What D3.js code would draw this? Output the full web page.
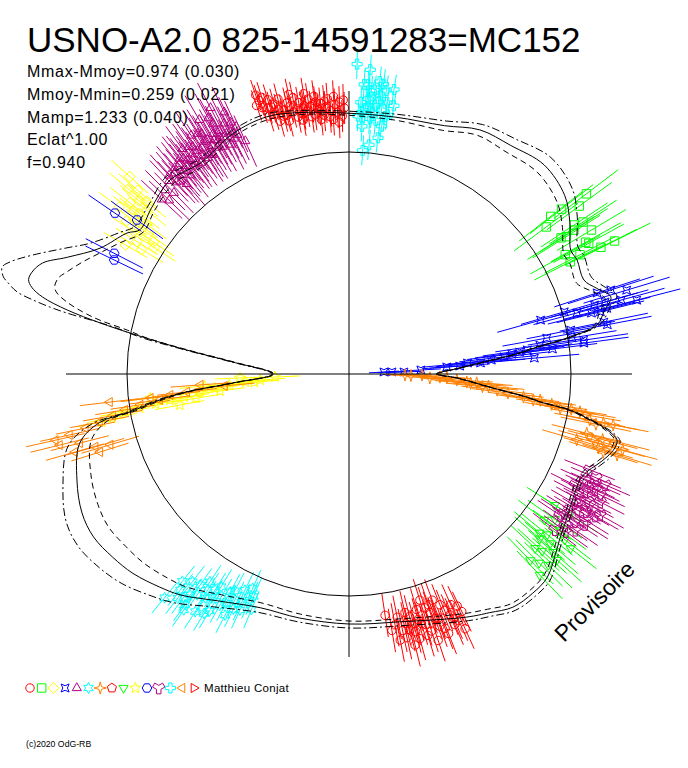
<!DOCTYPE html>
<html>
<head>
<meta charset="utf-8">
<script src="https://cdn.jsdelivr.net/npm/d3@7/dist/d3.min.js"></script>
<style>
body { margin: 0; background: #fff; }
svg { display: block; }
text { font-family: "Liberation Sans", Arial, sans-serif; fill: #000; }
</style>
</head>
<body>
<svg id="chart" width="688" height="768"></svg>
<script>
var title = "USNO-A2.0 825-14591283=MC152";
var statLines = ["Mmax-Mmoy=0.974 (0.030)", "Mmoy-Mmin=0.259 (0.021)", "Mamp=1.233 (0.040)", "Eclat^1.00", "f=0.940"];
var author = "Matthieu Conjat";
var copyright = "(c)2020 OdG-RB";
var stamp = "Provisoire";

// reference circle and axis extent, in radial units
var refRadius = 2.22, axisRadius = 2.83;

// fitted light curve and its two bounds : [phase angle (deg), radius]
var fitMid = [[0,0.88],[3.1,1.11],[4.8,1.31],[7,1.72],[8,1.87],[9.5,2.25],[11.2,2.53],[13.9,2.63],[16.4,2.73],[19.1,2.62],[21.8,2.53],[26.6,2.55],[29.2,2.54],[34.5,2.68],[39.6,2.80],[47,2.86],[54.7,2.80],[61.8,2.77],[69,2.66],[79.9,2.61],[91,2.61],[100.6,2.66],[107.7,2.70],[115.7,2.67],[125.2,2.58],[132.7,2.64],[140,2.58],[145.4,2.54],[147.6,2.63],[153.2,2.79],[157.5,3.05],[160.1,3.26],[162.2,3.33],[163.6,3.34],[164.7,3.29],[165.9,3.16],[167.2,2.89],[168.4,2.54],[169.4,2.23],[171.6,1.64],[174.1,1.17],[180,0.76],[184.4,1.16],[186.3,1.63],[187.8,1.91],[189.8,2.22],[191,2.54],[194.4,2.78],[201.3,2.92],[207.5,3.01],[212.5,3.03],[217.8,2.99],[222.7,2.94],[228.4,2.85],[232.6,2.78],[240,2.62],[249.2,2.50],[258.6,2.49],[270,2.50],[281.6,2.53],[295.8,2.70],[300.5,2.77],[305.1,2.85],[310,2.86],[314.3,2.84],[319.8,2.72],[322.3,2.67],[326.7,2.61],[331.2,2.56],[335.4,2.54],[337.6,2.57],[339.9,2.64],[342.2,2.71],[344.5,2.76],[346.2,2.76],[347.5,2.67],[348.5,2.56],[349.5,2.42],[350.7,2.24],[351.7,1.93],[352.6,1.79],[354.4,1.45],[357.9,1.08]];
var fitOuter = [[0,0.89],[3.1,1.12],[4.8,1.33],[7,1.74],[8,1.89],[9.5,2.27],[11.2,2.56],[13.9,2.68],[16.4,2.79],[19.1,2.69],[21.8,2.61],[26.6,2.63],[29.2,2.62],[34.5,2.77],[39.6,2.90],[47,2.96],[54.7,2.88],[61.8,2.83],[69,2.71],[79.9,2.64],[91,2.63],[100.6,2.68],[107.7,2.73],[115.7,2.70],[125.2,2.62],[132.7,2.69],[140,2.62],[145.4,2.60],[148.2,2.69],[153.2,2.90],[155.9,3.09],[159.4,3.38],[161.7,3.57],[162.9,3.63],[164.3,3.59],[164.9,3.54],[166.1,3.42],[166.8,3.25],[167.4,3.06],[167.8,2.89],[168.3,2.57],[168.8,2.37],[170,2.12],[171.6,1.67],[174.1,1.19],[180,0.77],[184.4,1.18],[186.3,1.66],[187.8,1.95],[189.8,2.27],[191,2.62],[194.4,2.90],[201.3,3.07],[207.5,3.19],[212.5,3.21],[217.8,3.16],[222.7,3.09],[228.4,2.97],[232.6,2.88],[240,2.69],[249.2,2.55],[258.6,2.53],[270,2.54],[281.6,2.57],[295.8,2.74],[300.5,2.81],[305.1,2.89],[310,2.90],[314.3,2.88],[319.8,2.75],[322.3,2.70],[326.7,2.64],[331.2,2.59],[335.4,2.57],[337.6,2.60],[339.9,2.67],[342.2,2.74],[344.5,2.79],[346.2,2.79],[347.5,2.70],[348.5,2.58],[349.5,2.44],[350.7,2.26],[351.7,1.95],[352.6,1.80],[354.4,1.46],[357.9,1.09]];
var fitInner = [[0,0.87],[3.1,1.10],[4.8,1.30],[7,1.70],[8,1.85],[9.5,2.23],[11.2,2.50],[13.9,2.58],[16.4,2.67],[19.1,2.55],[21.8,2.45],[26.6,2.47],[29.2,2.46],[34.5,2.59],[39.6,2.70],[47,2.76],[54.7,2.72],[61.8,2.71],[69,2.61],[79.9,2.58],[91,2.59],[100.6,2.64],[107.7,2.67],[115.7,2.64],[125.2,2.54],[132.7,2.59],[140,2.54],[145.4,2.50],[150.2,2.64],[154.1,2.77],[157.2,2.89],[160.1,3.00],[161.7,3.06],[163.5,3.07],[164.5,3.03],[165.7,2.91],[166.9,2.73],[167.8,2.55],[168.8,2.26],[169.9,2.05],[171.6,1.61],[174.1,1.15],[180,0.75],[184.4,1.14],[186.3,1.60],[187.8,1.87],[189.8,2.17],[191,2.46],[194.4,2.66],[201.3,2.77],[207.5,2.83],[212.5,2.85],[217.8,2.82],[222.7,2.79],[228.4,2.73],[232.6,2.68],[240,2.55],[249.2,2.45],[258.6,2.45],[270,2.47],[281.6,2.50],[295.8,2.66],[300.5,2.73],[305.1,2.81],[310,2.82],[314.3,2.80],[319.8,2.69],[322.3,2.64],[326.7,2.58],[331.2,2.53],[335.4,2.51],[337.6,2.54],[339.9,2.61],[342.2,2.68],[344.5,2.73],[346.2,2.73],[347.5,2.64],[348.5,2.54],[349.5,2.40],[350.7,2.22],[351.7,1.92],[352.6,1.78],[354.4,1.44],[357.9,1.07]];

// legend : one symbol and colour per observing session
var legendSymbols = ["circle","square","diamond","bowtie","triangle","star6","star4","pentagon","triangleDown","star5","hexagon","wye","cross","triangleLeft","triangleRight"];
var legendColors = ["#ff0000","#00ff00","#ffff00","#0000ff","#b4007f","#00ffff","#ff8000","#ff0000","#00ff00","#ffff00","#0000ff","#b4007f","#00ffff","#ff8000","#ff0000"];

// observations : [phase angle (deg), radius, optional error]
var obsRedTop = [[91,2.66],[91.5,2.58],[92,2.72],[92.5,2.62],[93,2.70],[93.5,2.55],[94,2.64],[94.5,2.76],[95,2.68],[95.5,2.60],[96,2.72],[96.5,2.66],[97,2.74],[97.5,2.62],[98,2.70],[98.5,2.78],[99,2.66],[99.5,2.72],[100,2.64],[100.5,2.76],[101,2.70],[101.5,2.82],[102,2.68],[102.5,2.74],[103,2.78],[103.5,2.66],[104,2.72],[104.5,2.84],[105,2.74],[105.5,2.80],[106,2.70],[106.5,2.86],[107,2.78],[107.5,2.90],[108,2.80],[108.5,2.94],[109,2.84],
  [91.2,2.74],[92.2,2.52],[93.2,2.78],[94.2,2.58],[95.2,2.74],[96.2,2.56],[97.2,2.80],[98.2,2.60],[99.2,2.84],[100.2,2.58],[101.2,2.62],[102.2,2.86],[103.2,2.60],[104.2,2.66],[105.2,2.62],[106.2,2.78],[107.2,2.70],[108.2,2.88],[96.8,2.68],[99.8,2.70]];
var obsCyanTop = [[81.5,2.62],[82,2.74],[82.5,2.86],[83,2.66],[83.5,2.80],[84,2.94],[84,2.55],[84.5,2.70],[85,2.62],[85.5,2.84],[86,2.76],[86,3.05],[86.5,2.66],[87,2.90],[87,2.48],[87.5,2.72],[88,2.58],[88.5,3.10],[83,2.38],[85,2.30],[86.5,2.24],[82.5,2.50],[80.5,2.72],[81,2.88],
  [82,2.60],[83.8,2.74],[84.8,2.85],[85.3,2.56],[86.2,2.90],[87.2,2.62],[83.2,2.92],[85.8,2.68]];
var obsMagentaTop = [[114,2.55],[114.5,2.72],[115,2.64],[115.5,2.90],[116,2.62],[116.5,2.80],[117,2.70],[117.5,3.00],[118,2.68],[118.5,2.85],[119,2.60],[119.5,2.76],[120,2.70],[120.5,2.95],[121,2.66],[121.5,2.82],[122,2.74],[122.5,2.62],[123,2.70],[123.5,2.86],[124,2.64],[124.5,2.76],[125,2.58],[125.5,2.70],[126,2.66],[126.5,2.80],[127,2.60],[127.5,2.72],[128,2.64],[128.5,2.54],[129,2.70],[130,2.60],[130.5,2.50],[131,2.66],[132,2.58],[133,2.64],[134,2.52],[135,2.60],[136,2.50],[137,2.56],
  [115.2,2.78],[116.2,2.70],[117.2,2.58],[118.2,2.76],[119.2,2.68],[120.2,2.62],[121.2,2.74],[122.2,2.84],[123.2,2.58],[124.2,2.70],[125.2,2.78],[126.2,2.60],[127.2,2.68],[128.2,2.74],[129.2,2.62],[130.2,2.70],[131.2,2.56],[132.2,2.68],[118.8,2.92],[121.8,2.58]];
var obsYellowTop = [[138,2.95],[139,2.80],[139.5,2.66],[140,2.88],[140.5,2.72],[141,2.60],[142,2.78],[142.5,2.64],[143,2.70],[143.5,2.52],[144,2.84],[144.5,2.60],[145,2.45],[145.5,2.70],[146,2.36],[146.5,2.58],[147,2.32],[148,2.50],[149,2.42],[150,2.58]];
var obsBlueLeft = [[145.5,2.84],[144,2.62],[152.8,2.64],[154.1,2.61]];
var obsYellowLeft = [[182.3,0.74],[182.1,1.09],[183.9,0.89],[184.4,1.04],[184.8,1.45],[185.3,1.20],[186.0,1.35],[186.9,1.50],[186.9,2.00],[188.0,1.66],[188.3,1.81],[188.8,1.96],[189.2,2.12],[189.6,2.27],[190.4,1.72],[190.5,2.41],[191.0,2.52],[187.5,1.30],[189.0,1.55],[185.0,0.95]];
var obsOrangeLeft = [[186.3,1.63],[186.7,1.80],[186.9,2.00],[187.8,1.91],[188.4,2.11],[189.1,2.27],[186.7,2.41],[190.9,2.54],[191.6,2.69],[192.3,2.86],[192.7,3.01],[193.8,2.98],[194.4,2.78],[196.0,2.64],[196.5,2.49],[195.9,2.85],[197.4,2.61],[184.2,1.49],[185.5,1.25],[190.0,2.40]];
var obsCyanBottom = [[232.0,2.74],[234.3,2.72],[234.8,2.58],[237.3,2.66],[238.2,2.54],[240.8,2.65],[241.4,2.48],[243.2,2.53],[244.3,2.40],[246.3,2.47],[234.6,2.83],[237.1,2.83],[236.2,2.50],[245.2,2.60],[242.8,2.71],[232.6,2.82],[245.8,2.35],[230.5,2.90],[239.5,2.75],[247.5,2.55],
  [231.2,2.66],[233.0,2.60],[233.5,2.78],[235.5,2.68],[236.8,2.58],[238.5,2.62],[239.0,2.48],[240.2,2.56],[241.8,2.60],[242.2,2.45],[243.8,2.62],[244.8,2.52],[246.8,2.42],[235.0,2.88],[238.8,2.80]];
var obsRedBottom = [[278.5,2.44],[280.4,2.55],[283.2,2.45],[283.4,2.63],[285.7,2.55],[288.0,2.46],[286.8,2.73],[289.4,2.59],[291.5,2.48],[290.7,2.72],[292.7,2.61],[292.9,2.72],[295.4,2.63],[280.9,2.71],[283.7,2.79],[290.2,2.41],[287.4,2.37],[288.5,2.81],[284.5,2.66],[287.0,2.62],[293.8,2.52],[281.8,2.62],[289.8,2.68],[294.5,2.80],
  [279.5,2.60],[281.2,2.48],[282.4,2.70],[284.0,2.50],[285.0,2.74],[286.2,2.60],[287.8,2.70],[288.8,2.52],[290.0,2.60],[291.0,2.78],[292.0,2.55],[293.2,2.66],[294.0,2.70],[295.0,2.56],[286.0,2.45],[289.0,2.44],[282.8,2.56],[284.8,2.58]];
var obsGreenTop = [[36.7,2.46],[38.0,2.56],[37.8,2.69],[37.2,2.98],[36.1,2.85],[33.0,2.79],[33.5,2.70],[32.3,2.57],[32.7,2.52],[29.1,2.71],[28.6,2.73],[26.7,2.82],[26.6,2.97],[32.6,2.67],[27.3,2.60],[26.9,2.48],[28.9,2.47],[30.7,2.82]];
var obsBlueRight = [[3.3,0.35,0.15],[2.7,0.43,0.15],[2.1,0.55,0.18],[3.2,0.72,0.2],[4.1,0.98,0.25],[5.3,1.19],[4.8,1.32],[5.6,1.43],[6.3,1.56],[7.7,1.80],[4.9,1.86],[10.3,2.01],[7.0,2.05],[11.2,2.26],[7.5,2.37],[16.1,2.24],[15.7,1.99],[15.0,2.36],[14.1,2.50],[11.5,2.60],[10.8,2.63],[18.1,2.61],[17.8,2.75],[16.8,2.90],[8.2,2.37],[14.3,2.66],[15.2,2.82],[14.4,2.97],[15.7,2.66],[15.7,2.55],[13.9,2.59],[8.6,1.93],[7.3,1.72],[4.1,1.11,0.3],[7.0,1.64],[9.2,2.26]];
var obsOrangeRight = [[359.0,0.56,0.2],[359.2,0.73,0.22],[358.1,0.91,0.25],[356.8,1.08],[356.1,1.18],[356.0,1.28],[353.8,1.49],[352.5,1.76],[352.0,1.86],[352.2,1.93],[350.8,2.14],[349.1,2.59],[349.1,2.69],[343.9,2.37],[344.9,2.53],[344.4,2.71],[344.5,2.84],[343.2,2.80],[342.9,2.66],[350.7,2.34],[349.2,2.45],[357.2,0.81,0.22],[355.0,1.40],[351.5,2.05],
  [358.6,0.62,0.2],[357.8,0.98,0.25],[355.6,1.22],[354.6,1.34],[353.2,1.60],[351.0,2.25],[350.2,2.40],[348.5,2.52],[346.0,2.45],[345.5,2.62],[343.5,2.60],[345.8,2.74]];
var obsMagentaBottom = [[333.8,2.52],[335.8,2.59],[334.8,2.72],[331.4,2.63],[331.5,2.74],[328.4,2.59],[330.7,2.88],[328.3,2.78],[325.0,2.64],[322.9,2.58],[325.4,2.75],[334.3,2.79],[336.6,2.79],[326.2,2.54],[338.3,2.59],[332.5,2.58],
  [324.0,2.68],[326.8,2.70],[327.5,2.80],[329.2,2.66],[329.8,2.74],[330.2,2.60],[332.0,2.70],[333.0,2.82],[333.5,2.64],[335.0,2.66],[336.0,2.70],[337.2,2.68],[330.0,2.84],[327.0,2.56]];
var obsGreenBottom = [[320.2,2.48],[318.2,2.79],[319.9,2.63],[323.3,2.44],[323.5,2.62],[316.9,2.55],[316.2,2.76],[313.5,2.77],[314.2,2.60],[322.5,2.72],[327.5,2.44],[327.5,2.62],[318.9,2.71],
  [315.2,2.68],[317.5,2.62],[321.0,2.55],[324.8,2.52],[319.2,2.52],[321.8,2.82]];

// session index (legend order) and typical error of each set
var sessions = [
  { points: obsRedTop, legend: 0, err: 0.16 },
  { points: obsRedBottom, legend: 0, err: 0.22 },
  { points: obsGreenTop, legend: 1, err: 0.4 },
  { points: obsYellowTop, legend: 2, err: 0.25 },
  { points: obsBlueRight, legend: 3, err: 0.45 },
  { points: obsMagentaTop, legend: 4, err: 0.28 },
  { points: obsCyanBottom, legend: 5, err: 0.2 },
  { points: obsOrangeRight, legend: 6, err: 0.36 },
  { points: obsGreenBottom, legend: 8, err: 0.33 },
  { points: obsYellowLeft, legend: 9, err: 0.25 },
  { points: obsBlueLeft, legend: 10, err: 0.32 },
  { points: obsMagentaBottom, legend: 11, err: 0.27 },
  { points: obsCyanTop, legend: 12, err: 0.15 },
  { points: obsOrangeLeft, legend: 13, err: 0.3 }
];

var svg = d3.select("#chart");
var cx = 349, cy = 374;
var rScale = d3.scaleLinear().domain([0, axisRadius]).range([0, 283]);
var rad = Math.PI / 180;

function toXY(angle, r) {
  var a = angle * rad, p = rScale(r);
  return [cx + p * Math.cos(a), cy - p * Math.sin(a)];
}

// small outline symbols
function polygon(n, r, start) {
  var pts = d3.range(n).map(function(k) {
    var a = start + k * 2 * Math.PI / n;
    return [r * Math.cos(a), r * Math.sin(a)];
  });
  return "M" + pts.map(function(p) { return p[0].toFixed(2) + "," + p[1].toFixed(2); }).join("L") + "Z";
}
function ring(n, r1, r2, start) {
  var pts = d3.range(n * 2).map(function(k) {
    var a = start + k * Math.PI / n, rr = k % 2 ? r2 : r1;
    return [rr * Math.cos(a), rr * Math.sin(a)];
  });
  return "M" + pts.map(function(p) { return p[0].toFixed(2) + "," + p[1].toFixed(2); }).join("L") + "Z";
}
function symbolPath(kind) {
  var s = 4.2;
  switch (kind) {
    case "circle": return "M" + s + ",0A" + s + "," + s + " 0 1,1 " + (-s) + ",0A" + s + "," + s + " 0 1,1 " + s + ",0Z";
    case "square": return "M" + (-s) + "," + (-s) + "H" + s + "V" + s + "H" + (-s) + "Z";
    case "diamond": return polygon(4, s * 1.3, -Math.PI / 2);
    case "bowtie": return ring(4, s * 1.35, s * 0.55, -Math.PI / 4);
    case "triangle": return polygon(3, s * 1.25, -Math.PI / 2);
    case "star6": return ring(6, s * 1.3, s * 0.7, -Math.PI / 2);
    case "star4": return ring(4, s * 1.45, s * 0.45, -Math.PI / 2);
    case "pentagon": return polygon(5, s * 1.15, -Math.PI / 2);
    case "triangleDown": return polygon(3, s * 1.25, Math.PI / 2);
    case "star5": return ring(5, s * 1.35, s * 0.6, -Math.PI / 2);
    case "hexagon": return polygon(6, s * 1.15, 0);
    case "wye": return d3.symbol().type(d3.symbolWye).size(s * s * 4)();
    case "cross": return d3.symbol().type(d3.symbolCross).size(s * s * 3.2)();
    case "triangleLeft": return polygon(3, s * 1.25, Math.PI);
    case "triangleRight": return polygon(3, s * 1.25, 0);
  }
}

// observations with radial error bars
var obsLayer = svg.append("g");
sessions.forEach(function(ses) {
  var color = legendColors[ses.legend];
  var g = obsLayer.append("g").attr("stroke", color).attr("fill", "none").attr("stroke-width", 1);
  g.selectAll("line").data(ses.points).enter().append("line")
    .attr("x1", function(d) { return toXY(d[0], d[1] - (d[2] || ses.err))[0]; })
    .attr("y1", function(d) { return toXY(d[0], d[1] - (d[2] || ses.err))[1]; })
    .attr("x2", function(d) { return toXY(d[0], d[1] + (d[2] || ses.err))[0]; })
    .attr("y2", function(d) { return toXY(d[0], d[1] + (d[2] || ses.err))[1]; });
  g.selectAll("path").data(ses.points).enter().append("path")
    .attr("transform", function(d) { var p = toXY(d[0], d[1]); return "translate(" + p[0] + "," + p[1] + ")"; })
    .attr("d", symbolPath(legendSymbols[ses.legend]));
});

// reference circle and axes
svg.append("circle").attr("cx", cx).attr("cy", cy).attr("r", rScale(refRadius))
  .attr("fill", "none").attr("stroke", "#000").attr("stroke-width", 1);
svg.append("line").attr("x1", cx - rScale(axisRadius)).attr("x2", cx + rScale(axisRadius))
  .attr("y1", cy).attr("y2", cy).attr("stroke", "#000");
svg.append("line").attr("y1", cy - rScale(axisRadius)).attr("y2", cy + rScale(axisRadius))
  .attr("x1", cx).attr("x2", cx).attr("stroke", "#000");

// fit curves
var radial = d3.lineRadial()
  .angle(function(d) { return (90 - d[0]) * rad; })
  .radius(function(d) { return rScale(d[1]); })
  .curve(d3.curveCatmullRomClosed.alpha(0.5));
var curves = svg.append("g").attr("transform", "translate(" + cx + "," + cy + ")")
  .attr("fill", "none").attr("stroke", "#000").attr("stroke-width", 1);
curves.append("path").attr("d", radial(fitOuter)).attr("stroke-dasharray", "8,3,2,3");
curves.append("path").attr("d", radial(fitMid));
curves.append("path").attr("d", radial(fitInner)).attr("stroke-dasharray", "6,4");

// texts
svg.append("text").attr("x", 27).attr("y", 52).attr("font-size", 35).text(title);
svg.selectAll(".stat").data(statLines).enter().append("text")
  .attr("class", "stat").attr("x", 27).attr("y", function(d, i) { return 77 + i * 22.8; })
  .attr("font-size", 16).attr("letter-spacing", 0.7).text(function(d) { return d; });

// legend
var legend = svg.append("g").attr("fill", "none").attr("stroke-width", 1);
legend.selectAll("path").data(legendSymbols).enter().append("path")
  .attr("transform", function(d, i) { return "translate(" + (30 + i * 11.7) + ",688)"; })
  .attr("stroke", function(d, i) { return legendColors[i]; })
  .attr("d", function(d) { return symbolPath(d); });
svg.append("text").attr("x", 204).attr("y", 692).attr("font-size", 11.5).attr("letter-spacing", 0.3).text(author);
svg.append("text").attr("x", 26).attr("y", 747).attr("font-size", 8.7).text(copyright);
svg.append("text").attr("transform", "translate(564,643) rotate(-45)").attr("font-size", 23).text(stamp);
</script>
</body>
</html>
